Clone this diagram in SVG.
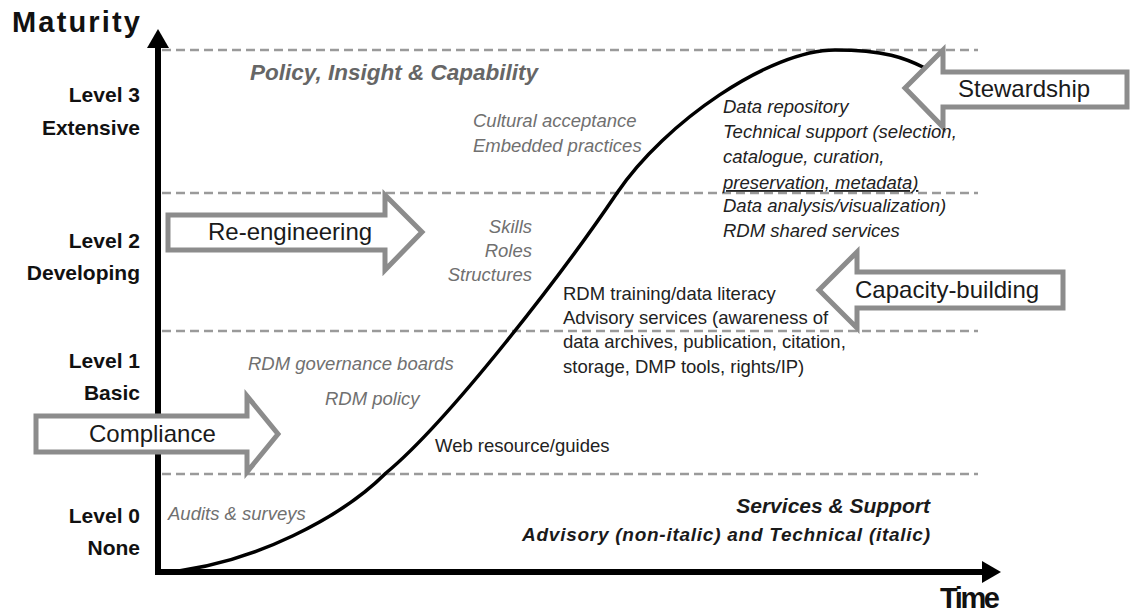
<svg xmlns="http://www.w3.org/2000/svg" width="1131" height="616" viewBox="0 0 1131 616">
<style>
text{font-family:"Liberation Sans",Arial,sans-serif;}
.axisLbl{font-weight:bold;font-size:29px;fill:#111;}
.lvl{font-weight:bold;font-size:21px;fill:#111;text-anchor:end;}
.dash{stroke:#9a9a9a;stroke-width:2.5;stroke-dasharray:9 5;fill:none;}
.blk{fill:#fff;stroke:#8c8c8c;stroke-width:5;stroke-linejoin:miter;}
.blkTxt{font-size:24px;fill:#1a1a1a;}
.gi{font-style:italic;font-size:18.5px;fill:#707070;}
.di{font-style:italic;font-size:18.5px;fill:#222;}
.dn{font-size:18.5px;fill:#222;}
.head{font-style:italic;font-weight:bold;}
</style>
<rect width="1131" height="616" fill="#fff"/>

<g id="bands">
<line class="dash" x1="162" y1="50" x2="978" y2="50"/>
<line class="dash" x1="162" y1="193" x2="978" y2="193"/>
<line class="dash" x1="162" y1="331" x2="978" y2="331"/>
<line class="dash" x1="162" y1="474" x2="978" y2="474"/>
</g>

<g id="axes">
<line x1="158" y1="575" x2="158" y2="46" stroke="#000" stroke-width="6"/>
<polygon points="147,48 158,29 169,48" fill="#000"/>
<line x1="155" y1="572" x2="984" y2="572" stroke="#000" stroke-width="6"/>
<polygon points="982,561 1001,572 982,583" fill="#000"/>
<text class="axisLbl" x="12" y="32" textLength="128">Maturity</text>
<text class="axisLbl" x="940" y="608" font-size="28" textLength="60">Time</text>
</g>

<g id="levels">
<text class="lvl" x="140" y="102">Level 3</text>
<text class="lvl" x="140" y="135">Extensive</text>
<text class="lvl" x="140" y="248">Level 2</text>
<text class="lvl" x="140" y="280">Developing</text>
<text class="lvl" x="140" y="368">Level 1</text>
<text class="lvl" x="140" y="400">Basic</text>
<text class="lvl" x="140" y="523">Level 0</text>
<text class="lvl" x="140" y="555">None</text>
</g>

<g id="connectors">
<path d="M158,573 C255,566 345,514 386,473 C450,420 565,270 617,193 C665,122 770,50 835,50 C885,50 905,58 925,68" fill="none" stroke="#000" stroke-width="3.5"/>
</g>

<g id="stewardship">
<polygon class="blk" points="1127,72 943,72 943,50 905,88 943,127 943,107 1127,107"/>
<text class="blkTxt" x="958" y="97">Stewardship</text>
</g>
<g id="capacity-building">
<polygon class="blk" points="1063,272 857,272 857,252 819,290 857,328 857,308 1063,308"/>
<text class="blkTxt" x="855" y="298">Capacity-building</text>
</g>
<g id="re-engineering">
<polygon class="blk" points="168,215 385,215 385,195 422,232 385,270 385,250 168,250"/>
<text class="blkTxt" x="208" y="240">Re-engineering</text>
</g>
<g id="compliance">
<polygon class="blk" points="36,416 247,416 247,396 278,434 247,472 247,452 36,452"/>
<text class="blkTxt" x="89" y="442">Compliance</text>
</g>

<g id="policy-insight">
<text class="head" x="250" y="80" font-size="22.5" style="fill:#666">Policy, Insight &amp; Capability</text>
<text class="gi" x="473" y="127">Cultural acceptance</text>
<text class="gi" x="473" y="152">Embedded practices</text>
</g>

<g id="technical-services">
<text class="di" x="723" y="113">Data repository</text>
<text class="di" x="723" y="138">Technical support (selection,</text>
<text class="di" x="723" y="163">catalogue, curation,</text>
<text class="di" x="723" y="189" text-decoration="underline">preservation, metadata)</text>
<text class="di" x="723" y="212">Data analysis/visualization)</text>
<text class="di" x="723" y="237">RDM shared services</text>
</g>

<g id="skills">
<text class="gi" x="532" y="233" text-anchor="end">Skills</text>
<text class="gi" x="532" y="257" text-anchor="end">Roles</text>
<text class="gi" x="532" y="281" text-anchor="end">Structures</text>
</g>

<g id="advisory-services">
<text class="dn" x="563" y="300" font-size="19">RDM training/data literacy</text>
<text class="dn" x="563" y="324" font-size="19">Advisory services (awareness of</text>
<text class="dn" x="563" y="348" font-size="19">data archives, publication, citation,</text>
<text class="dn" x="563" y="373" font-size="19">storage, DMP tools, rights/IP)</text>
</g>

<g id="governance">
<text class="gi" x="248" y="370">RDM governance boards</text>
<text class="gi" x="325" y="405">RDM policy</text>
</g>

<g id="web-resource">
<text class="dn" x="435" y="452">Web resource/guides</text>
</g>

<g id="audits">
<text class="gi" x="168" y="520">Audits &amp; surveys</text>
</g>

<g id="services-support">
<text class="head" x="930" y="513" font-size="21" text-anchor="end" style="fill:#1a1a1a">Services &amp; Support</text>
<text class="head" x="522" y="541" font-size="19" textLength="408" style="fill:#1a1a1a">Advisory (non-italic) and Technical  (italic)</text>
</g>
</svg>
